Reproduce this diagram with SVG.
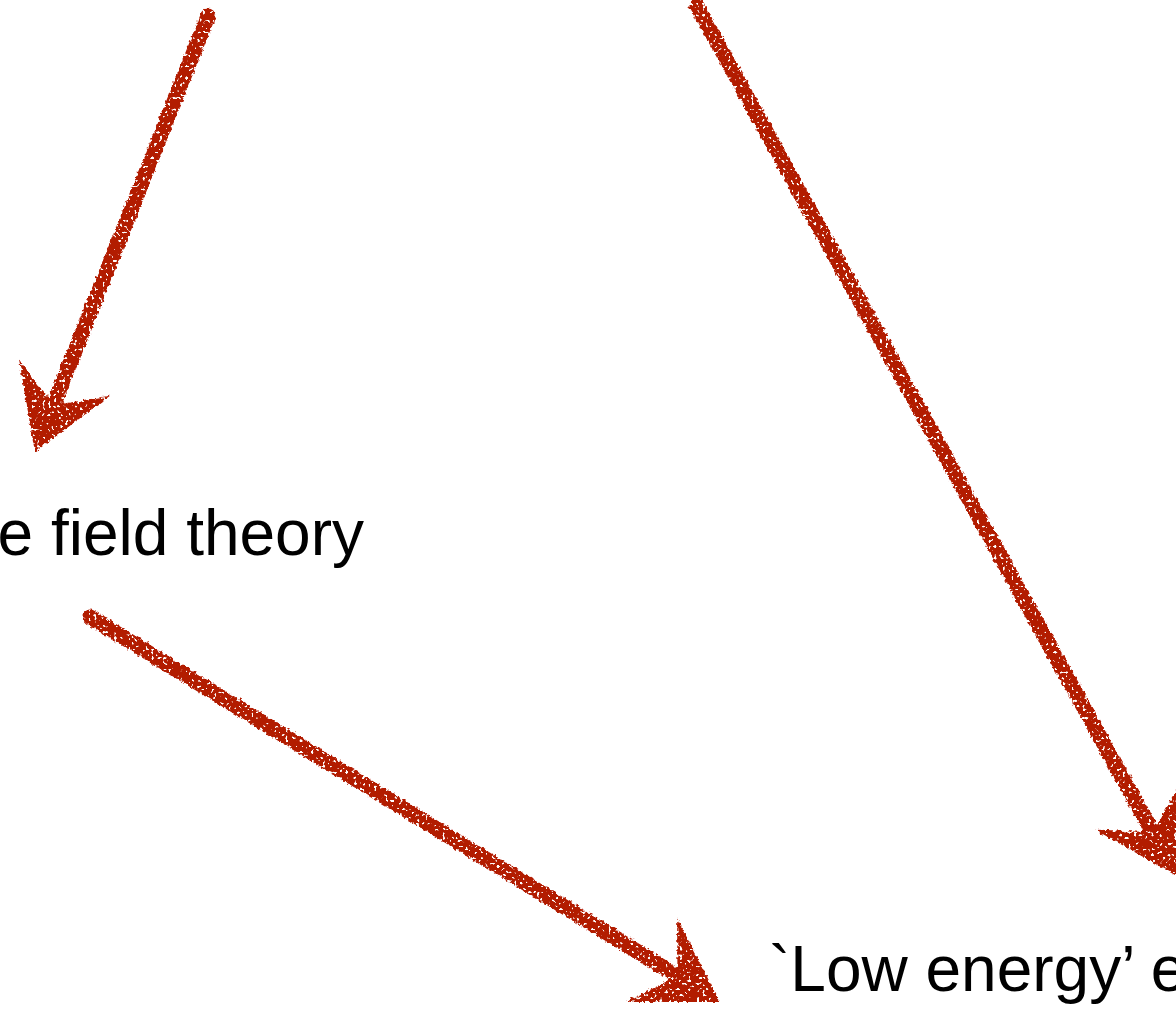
<svg xmlns="http://www.w3.org/2000/svg" width="1176" height="1010" viewBox="0 0 1176 1010">
<style>
.lbl{font-family:"Liberation Sans",Arial,sans-serif;font-size:64px;fill:#000}
.shaft{fill:none;stroke:#b21a00;stroke-width:15;stroke-linecap:round}
.head{fill:#b21a00}
</style>
<defs>
<filter id="rough" x="-10%" y="-10%" width="120%" height="120%">
<feTurbulence type="fractalNoise" baseFrequency="0.3" numOctaves="2" seed="3" result="n"/>
<feDisplacementMap in="SourceGraphic" in2="n" scale="5" xChannelSelector="R" yChannelSelector="G" result="d"/>
<feTurbulence type="fractalNoise" baseFrequency="0.35" numOctaves="1" seed="11" result="n2"/>
<feColorMatrix in="n2" type="matrix" values="0 0 0 0 0  0 0 0 0 0  0 0 0 0 0  -14 0 0 0 9.6" result="mask"/>
<feComposite in="d" in2="mask" operator="in"/>
</filter>
<marker id="ah" markerUnits="userSpaceOnUse" viewBox="-40 -60 100 120" refX="0" refY="0" markerWidth="100" markerHeight="120" orient="auto" overflow="visible">
<path class="head" d="M50,0 L-30,-49 L-24,-39 L-6,-10 L-6,10 L-24,39 L-30,49 Z"/>
</marker>
</defs>
<rect width="1176" height="1010" fill="#fff"/>
<g id="connectors" filter="url(#rough)">
<path class="shaft" d="M208,16 L53.4,405.5" marker-end="url(#ah)"/>
<path class="shaft" d="M90,617 L677.3,975.9" marker-end="url(#ah)"/>
<path class="shaft" d="M697,6 L1152.6,832.3" marker-end="url(#ah)"/>
</g>
<g id="node-field-theory">
<text class="lbl" x="364" y="555" text-anchor="end">e field theory</text>
</g>
<g id="node-low-energy">
<text class="lbl" x="769" y="991">`Low energy’ e</text>
</g>
</svg>
